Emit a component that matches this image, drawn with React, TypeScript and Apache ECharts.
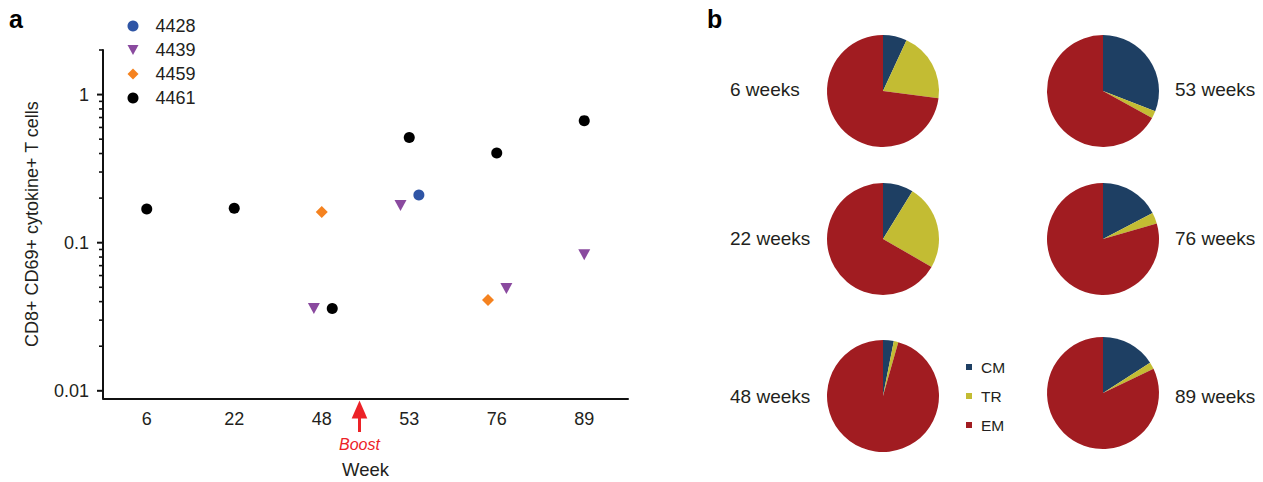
import React, { useEffect, useRef } from 'react';
import * as echarts from 'echarts';

// ---------- data ----------
const weeks = ['6', '22', '48', '53', '76', '89'];
// [position along the week axis (category index, with small jitter), value]
const s4428 = [[3.11, 0.21]];
const s4439 = [[1.91, 0.036], [2.9, 0.178], [4.11, 0.049], [5.0, 0.083]];
const s4459 = [[2.0, 0.161], [3.9, 0.041]];
const s4461 = [[0, 0.169], [1, 0.171], [2.12, 0.036], [3.0, 0.514], [4.0, 0.403], [5.0, 0.667]];

const yMajorTicks = [0.01, 0.1, 1];
const yMinorTicks = [0.02, 0.03, 0.04, 0.05, 0.06, 0.07, 0.08, 0.09, 0.2, 0.3, 0.4, 0.5, 0.6, 0.7, 0.8, 0.9, 2];

const pieLabels = ['6 weeks', '53 weeks', '22 weeks', '76 weeks', '48 weeks', '89 weeks'];
const subsets = ['CM', 'TR', 'EM'];
const cmShare = [6.9, 30.9, 8.8, 17.3, 3.1, 15.9];
const trShare = [20.2, 2.1, 24.5, 3.2, 1.3, 2.0];
const emShare = [72.9, 67.0, 66.7, 79.5, 95.6, 82.1];

// ---------- layout / style ----------
const FONT = '"Liberation Sans", Arial, Helvetica, sans-serif';
const TXT = '#231f20';
const subsetColors = ['#1e3f63', '#c3bc33', '#a11c21'];
const pieCenters = [
  [883, 91], [1103, 91],
  [883, 239], [1103, 239],
  [883, 396], [1103, 393],
];
const pieLabelPos = [
  [730, 89], [1175, 89],
  [730, 238], [1175, 238],
  [730, 396], [1175, 396],
];

export default function App() {
  const ref = useRef<HTMLDivElement>(null);

  useEffect(() => {
    if (!ref.current) return;
    const chart = echarts.init(ref.current, undefined, { renderer: 'svg' });

    const tickData = [
      ...yMajorTicks.map((v) => [-0.5, v, 1]),
      ...yMinorTicks.map((v) => [-0.5, v, 0]),
    ];

    const pieSeries = pieLabels.map((lab, i) => ({
      type: 'pie',
      name: lab,
      center: pieCenters[i],
      radius: 56,
      startAngle: 90,
      clockwise: true,
      silent: true,
      label: { show: false },
      labelLine: { show: false },
      emphasis: { disabled: true },
      itemStyle: { borderWidth: 0 },
      data: [
        { name: subsets[0], value: cmShare[i], itemStyle: { color: subsetColors[0] } },
        { name: subsets[1], value: trShare[i], itemStyle: { color: subsetColors[1] } },
        { name: subsets[2], value: emShare[i], itemStyle: { color: subsetColors[2] } },
      ],
    }));

    const option: any = {
      animation: false,
      backgroundColor: '#ffffff',
      textStyle: { fontFamily: FONT },
      grid: { left: 103, top: 50, width: 525, height: 348.3, outerBoundsMode: 'none', containLabel: false },
      xAxis: [
        {
          type: 'category',
          data: weeks,
          boundaryGap: true,
          axisLine: { onZero: false, lineStyle: { color: '#111', width: 2 } },
          axisTick: { alignWithLabel: true, length: 6, lineStyle: { color: '#111', width: 2 } },
          axisLabel: { fontSize: 18, color: TXT, margin: 12, interval: 0, fontFamily: FONT },
          splitLine: { show: false },
          name: 'Week',
          nameLocation: 'middle',
          nameGap: 62,
          nameTextStyle: { fontSize: 18.5, color: TXT, fontFamily: FONT },
        },
        { type: 'value', min: -0.5, max: 5.5, show: false },
      ],
      yAxis: {
        type: 'log',
        logBase: 10,
        min: 0.0089,
        max: 2,
        axisLine: { show: true, onZero: false, lineStyle: { color: '#111', width: 2 } },
        axisTick: { show: false },
        splitLine: { show: false },
        axisLabel: {
          fontSize: 18,
          color: TXT,
          margin: 14,
          fontFamily: FONT,
          showMinLabel: false,
          showMaxLabel: false,
          formatter: (v: number) => {
            const l = Math.log10(v);
            if (Math.abs(l - Math.round(l)) > 1e-6) return '';
            return String(Number(v.toPrecision(1)));
          },
        },
        name: 'CD8+ CD69+ cytokine+ T cells',
        nameLocation: 'middle',
        nameGap: 62,
        nameTextStyle: { fontSize: 18, color: TXT, fontFamily: FONT },
      },
      legend: [
        {
          data: ['4428', '4439', '4459', '4461'],
          orient: 'vertical',
          left: 127.5,
          top: 16,
          padding: 0,
          itemWidth: 11,
          itemHeight: 11,
          itemGap: 4,
          selectedMode: false,
          textStyle: { fontSize: 18, color: TXT, lineHeight: 20, fontFamily: FONT, padding: [0, 0, 0, 12] },
        },
        {
          data: subsets,
          orient: 'vertical',
          left: 966,
          top: 358,
          padding: 0,
          icon: 'rect',
          itemWidth: 6,
          itemHeight: 6,
          itemGap: 11,
          selectedMode: false,
          textStyle: { fontSize: 15.5, color: TXT, lineHeight: 18, fontFamily: FONT, padding: [0, 0, 0, 4] },
        },
      ],
      series: [
        {
          type: 'scatter', name: '4428', xAxisIndex: 1, data: s4428,
          symbol: 'circle', symbolSize: 11, itemStyle: { color: '#2f55a5', opacity: 1 }, silent: true,
        },
        {
          type: 'scatter', name: '4439', xAxisIndex: 1, data: s4439,
          symbol: 'path://M0,0 L12,0 L6,11 Z', symbolSize: [12, 11], itemStyle: { color: '#8a4a9f', opacity: 1 }, silent: true,
        },
        {
          type: 'scatter', name: '4459', xAxisIndex: 1, data: s4459,
          symbol: 'diamond', symbolSize: 12, itemStyle: { color: '#f5821f', opacity: 1 }, silent: true,
        },
        {
          type: 'scatter', name: '4461', xAxisIndex: 1, data: s4461,
          symbol: 'circle', symbolSize: 11, itemStyle: { color: '#000000', opacity: 1 }, silent: true,
        },
        {
          type: 'custom',
          name: 'yticks',
          xAxisIndex: 1,
          silent: true,
          clip: false,
          data: tickData,
          renderItem: (_params: any, api: any) => {
            const p = api.coord([api.value(0), api.value(1)]);
            const major = api.value(2) === 1;
            const len = major ? 6 : 4;
            return {
              type: 'line',
              shape: { x1: p[0] - len, y1: p[1], x2: p[0], y2: p[1] },
              style: { stroke: '#111', lineWidth: major ? 2 : 1.6 },
            };
          },
        },
        ...pieSeries,
      ],
      graphic: [
        { type: 'text', x: 9, y: 18.5, style: { text: 'a', fontSize: 25, fontWeight: 'bold', fontFamily: FONT, fill: '#000', verticalAlign: 'middle' } },
        { type: 'text', x: 707, y: 18.5, style: { text: 'b', fontSize: 25, fontWeight: 'bold', fontFamily: FONT, fill: '#000', verticalAlign: 'middle' } },
        ...pieLabels.map((lab, i) => ({
          type: 'text',
          x: pieLabelPos[i][0],
          y: pieLabelPos[i][1],
          style: { text: lab, fontSize: 19, fontFamily: FONT, fill: TXT, verticalAlign: 'middle' },
        })),
        { type: 'polygon', shape: { points: [[351.7, 418.5], [367.3, 418.5], [359.5, 400.5]] }, style: { fill: '#ec2227' } },
        { type: 'rect', shape: { x: 358, y: 418, width: 3, height: 14 }, style: { fill: '#ec2227' } },
        { type: 'text', x: 359.5, y: 444.5, style: { text: 'Boost', fontSize: 16, fontStyle: 'italic', fontFamily: FONT, fill: '#ec2227', align: 'center', verticalAlign: 'middle' } },
      ],
    };

    chart.setOption(option);
    return () => chart.dispose();
  }, []);

  return (
    <div
      ref={ref}
      style={{ position: 'fixed', left: 0, top: 0, width: 1263, height: 482, background: '#fff' }}
    />
  );
}
